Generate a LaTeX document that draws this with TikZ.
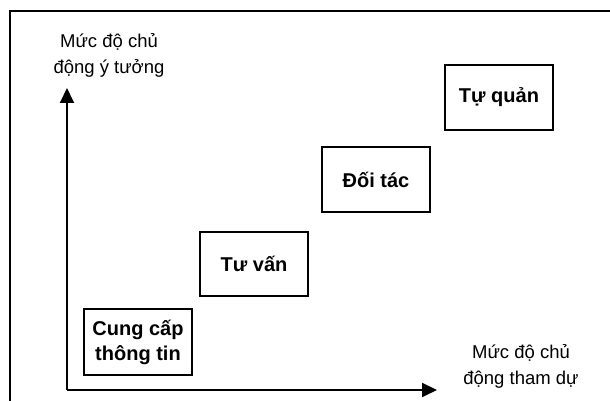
\documentclass[tikz,border=0pt]{standalone}
\usepackage{fontspec}
\setmainfont{Liberation Sans}
\usetikzlibrary{arrows.meta}
\begin{document}
\begin{tikzpicture}[x=1pt,y=1pt,
  level/.style={draw=black,line width=2pt,minimum width=108pt,minimum height=65pt,
    inner sep=0pt,align=center,font=\fontsize{20}{25}\selectfont\bfseries},
  axislabel/.style={align=center,inner sep=0pt,font=\fontsize{18.5}{26}\selectfont},
  axis/.style={line width=2pt,-{Triangle[length=15pt,width=14pt]}}]
\useasboundingbox (0,0) rectangle (610,401);
% frame (left and top edges)
\draw[line width=2pt] (10,0) -- (10,390) -- (610,390);
% axes
\coordinate (O) at (67,11);
\coordinate (Ytip) at (67,313);
\coordinate (Xtip) at (437,11);
\draw[axis] (O) -- (Ytip);
\draw[axis] (O) -- (Xtip);
\node[axislabel] (ylab) at (109,346) {Mức độ chủ\\động ý tưởng};
\node[axislabel] (xlab) at (521,35) {Mức độ chủ\\động tham dự};
% participation levels
\node[level,minimum height=66pt] (cc) at (138,59) {Cung cấp\\thông tin};
\node[level,minimum height=64pt] (tv) at (254,137) {Tư vấn};
\node[level] (dt) at (376,221.5) {Đối tác};
\node[level] (tq) at (499,303.5) {Tự quản};
\end{tikzpicture}
\end{document}
